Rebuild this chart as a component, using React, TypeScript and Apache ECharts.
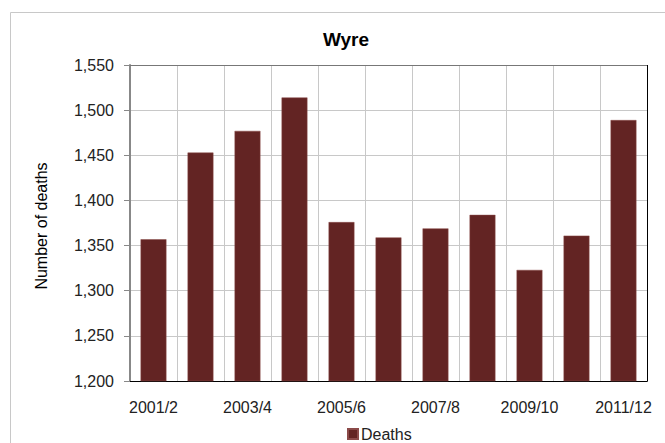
import React, { useEffect, useRef } from "react";
import * as echarts from "echarts";

const categories = ["2001/2", "2002/3", "2003/4", "2004/5", "2005/6", "2006/7", "2007/8", "2008/9", "2009/10", "2010/11", "2011/12"];
const deaths = [1357, 1453, 1477, 1514, 1376, 1359, 1369, 1384, 1323, 1361, 1489];
const seriesName = "Deaths";
const chartTitle = "Wyre";
const yAxisTitle = "Number of deaths";

const FONT = "'Liberation Sans', Arial, sans-serif";

export default function App() {
  const ref = useRef<HTMLDivElement>(null);
  useEffect(() => {
    if (!ref.current) return;
    const chart = echarts.init(ref.current, undefined, { renderer: "svg" });
    chart.setOption({
      animation: false,
      backgroundColor: "#ffffff",
      textStyle: { fontFamily: FONT },
      graphic: [
        { type: "line", shape: { x1: 10.5, y1: 12.5, x2: 665, y2: 12.5 }, style: { stroke: "#c8c8c8", lineWidth: 1 } },
        { type: "line", shape: { x1: 10.5, y1: 12.5, x2: 10.5, y2: 443 }, style: { stroke: "#c8c8c8", lineWidth: 1 } },
        { type: "line", shape: { x1: 130, y1: 65.5, x2: 647.5, y2: 65.5 }, style: { stroke: "#777", lineWidth: 1 }, z: 100 },
        { type: "line", shape: { x1: 647.5, y1: 65, x2: 647.5, y2: 381.5 }, style: { stroke: "#000", lineWidth: 1 }, z: 100 },
        {
          type: "text",
          x: 346,
          y: 39,
          style: { text: chartTitle, font: `bold 19px ${FONT}`, fill: "#000", textAlign: "center", textVerticalAlign: "middle" },
        },
        {
          type: "text",
          x: 41,
          y: 226,
          rotation: Math.PI / 2,
          style: { text: yAxisTitle, font: `16px ${FONT}`, fill: "#000", textAlign: "center", textVerticalAlign: "middle" },
        },
      ],
      legend: {
        data: [seriesName],
        left: 342,
        top: 421,
        itemWidth: 10,
        itemHeight: 10,
        icon: "rect",
        itemGap: 4,
        textStyle: { fontSize: 16, color: "#222", fontFamily: FONT, padding: [0, 0, 0, -2] },
      },
      grid: { left: 130, right: 18, top: 65, bottom: 62, containLabel: false },
      xAxis: {
        type: "category",
        data: categories,
        boundaryGap: true,
        axisLine: { show: true, lineStyle: { color: "#000", width: 1 } },
        axisTick: { show: false },
        axisLabel: { interval: 1, margin: 18, fontSize: 16, color: "#222", fontFamily: FONT },
        splitLine: { show: true, interval: 0, lineStyle: { color: "#c8c8c8", width: 1 } },
      },
      yAxis: {
        type: "value",
        min: 1200,
        max: 1550,
        interval: 50,
        axisLine: { show: true, lineStyle: { color: "#888", width: 2 } },
        axisTick: { show: true, length: 6, inside: false, lineStyle: { color: "#888" } },
        axisLabel: {
          margin: 16,
          fontSize: 16,
          color: "#222",
          fontFamily: FONT,
          formatter: (v: number) => v.toLocaleString("en-US"),
        },
        splitLine: { show: true, lineStyle: { color: "#c8c8c8", width: 1 } },
      },
      series: [
        {
          name: seriesName,
          type: "bar",
          data: deaths,
          barWidth: "55%",
          itemStyle: { color: "#632423", borderColor: "#8b4a49", borderWidth: 0.5 },
        },
      ],
    });
    return () => chart.dispose();
  }, []);
  return <div ref={ref} style={{ position: "fixed", left: 0, top: 0, width: 665, height: 443 }} />;
}
